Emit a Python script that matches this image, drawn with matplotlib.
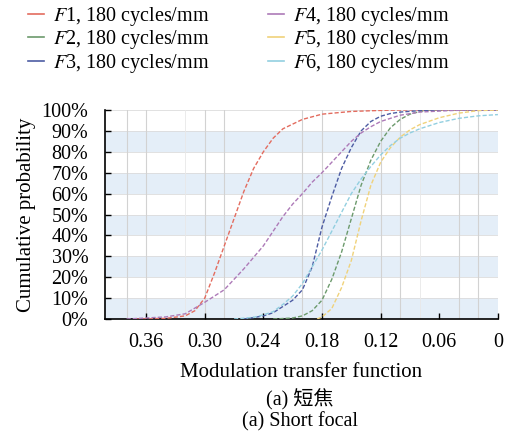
import matplotlib
matplotlib.use("Agg")
import matplotlib.pyplot as plt

plt.rcParams['font.family'] = ['Liberation Serif', 'Noto Sans CJK SC']
plt.rcParams['mathtext.fontset'] = 'stix'

# cumulative probability (%) vs MTF
f1_mtf = [0.37, 0.34, 0.32, 0.31, 0.30, 0.29, 0.28, 0.27, 0.26, 0.25, 0.24, 0.23, 0.22, 0.20, 0.18, 0.15, 0.12, 0.10, 0.0]
f1_cum = [0, 0.3, 1.5, 4, 10, 22, 35, 48, 61, 72, 80, 86.5, 91, 95.5, 98, 99.3, 99.8, 100, 100]

f2_mtf = [0.23, 0.21, 0.20, 0.19, 0.18, 0.17, 0.16, 0.15, 0.14, 0.13, 0.12, 0.11, 0.10, 0.09, 0.08, 0.07, 0.0]
f2_cum = [0, 0.5, 1.5, 4, 9, 19, 32, 48, 64, 76, 85, 91.5, 95.5, 98, 99.3, 100, 100]

f3_mtf = [0.26, 0.25, 0.24, 0.23, 0.22, 0.21, 0.20, 0.19, 0.18, 0.17, 0.16, 0.15, 0.14, 0.13, 0.12, 0.11, 0.10, 0.08, 0.06, 0.0]
f3_cum = [0, 0.7, 1.5, 3, 6, 9, 14, 25, 44, 58.5, 72, 82, 90, 94.5, 97, 98.3, 99, 99.7, 100, 100]

f4_mtf = [0.38, 0.36, 0.34, 0.32, 0.30, 0.29, 0.28, 0.27, 0.26, 0.25, 0.24, 0.23, 0.22, 0.21, 0.20, 0.19, 0.18, 0.17,
          0.16, 0.15, 0.14, 0.13, 0.12, 0.10, 0.08, 0.05, 0.03, 0.0]
f4_cum = [0, 0.5, 1, 2.5, 8, 11, 14, 19, 24, 29.5, 35, 42, 49, 55, 60, 65.5, 70, 75,
          80, 85, 89, 92, 94.5, 97.5, 99, 99.7, 100, 100]

f5_mtf = [0.185, 0.18, 0.17, 0.16, 0.15, 0.14, 0.13, 0.12, 0.11, 0.10, 0.09, 0.08, 0.06, 0.04, 0.02, 0.0]
f5_cum = [0, 1, 5, 15, 28, 47, 64, 75, 82, 87, 90.5, 93, 96.3, 98.5, 99.7, 100]

f6_mtf = [0.27, 0.25, 0.24, 0.23, 0.22, 0.21, 0.20, 0.19, 0.18, 0.17, 0.16, 0.15, 0.14, 0.13, 0.12, 0.11, 0.10,
          0.09, 0.08, 0.06, 0.04, 0.02, 0.0]
f6_cum = [0, 0.8, 2, 3.5, 7, 11, 17, 25, 33, 42, 51, 60, 67, 73, 78.5, 83, 86.5,
          89, 91, 94, 96, 97.2, 97.8]

labels = [r'$F$1, 180 cycles/mm', r'$F$2, 180 cycles/mm', r'$F$3, 180 cycles/mm',
          r'$F$4, 180 cycles/mm', r'$F$5, 180 cycles/mm', r'$F$6, 180 cycles/mm']
colors = ['#e36c5f', '#6c9a6c', '#4d5ca3', '#ad7ab8', '#f0d27a', '#92cfe0']
xticks = [0.36, 0.30, 0.24, 0.18, 0.12, 0.06, 0.0]
xticklabels = ['0.36', '0.30', '0.24', '0.18', '0.12', '0.06', '0']
yticks = list(range(0, 101, 10))

fig = plt.figure(figsize=(5.05, 4.41), dpi=100)
ax = fig.add_axes([0.208, 0.2766, 0.778, 0.474])

# alternating bands
for lo in range(0, 100, 20):
    ax.axhspan(lo, lo + 10, color='#e4eef8', zorder=0, lw=0)
for y in yticks[1:]:
    ax.axhline(y, color='#dcdcdc', lw=0.6, zorder=0.5)
for xv in [0.38, 0.36, 0.30, 0.28, 0.20, 0.18, 0.12, 0.10, 0.04, 0.02]:
    ax.axvline(xv, color='#d2d2d2', lw=0.8, zorder=0.5)
for xv in [0.32, 0.08]:
    ax.axvline(xv, color='#e8e8e8', lw=0.6, zorder=0.5)

series = [(f1_mtf, f1_cum), (f2_mtf, f2_cum), (f3_mtf, f3_cum),
          (f4_mtf, f4_cum), (f5_mtf, f5_cum), (f6_mtf, f6_cum)]
handles = []
for (m, c), col, lab in zip(series, colors, labels):
    ax.plot(m, c, color=col, lw=1.0, ls=(0, (3, 1.5)), zorder=3)
    h, = ax.plot([], [], color=col, lw=1.2, label=lab)
    handles.append(h)

ax.set_xlim(0.402, 0.0)
ax.set_ylim(0, 100)
ax.set_xticks(xticks)
ax.set_xticklabels(xticklabels)
ax.set_yticks(yticks)
ax.set_yticklabels([f'{v}%' for v in yticks])
ax.tick_params(direction='in', length=4, width=1, labelsize=14.5)
ax.tick_params(axis='x', pad=10)
ax.tick_params(axis='y', pad=12)
for s in ['top', 'right']:
    ax.spines[s].set_visible(False)
for s in ['left', 'bottom']:
    ax.spines[s].set_linewidth(1.2)
ax.set_ylabel('Cumulative probability', fontsize=15, labelpad=4)
ax.set_xlabel('Modulation transfer function', fontsize=15, labelpad=8)

fig.legend(handles=handles, loc='upper left', bbox_to_anchor=(0.02, 1.03), ncol=2,
           frameon=False, fontsize=14.5, handlelength=0.8, handletextpad=0.45,
           columnspacing=2.9, labelspacing=0.02)

fig.text(0.594, 0.093, '(a) 短焦', ha='center', va='center', fontsize=14.5)
fig.text(0.594, 0.043, '(a) Short focal', ha='center', va='center', fontsize=14.5)

fig.savefig('out.png', dpi=100)
